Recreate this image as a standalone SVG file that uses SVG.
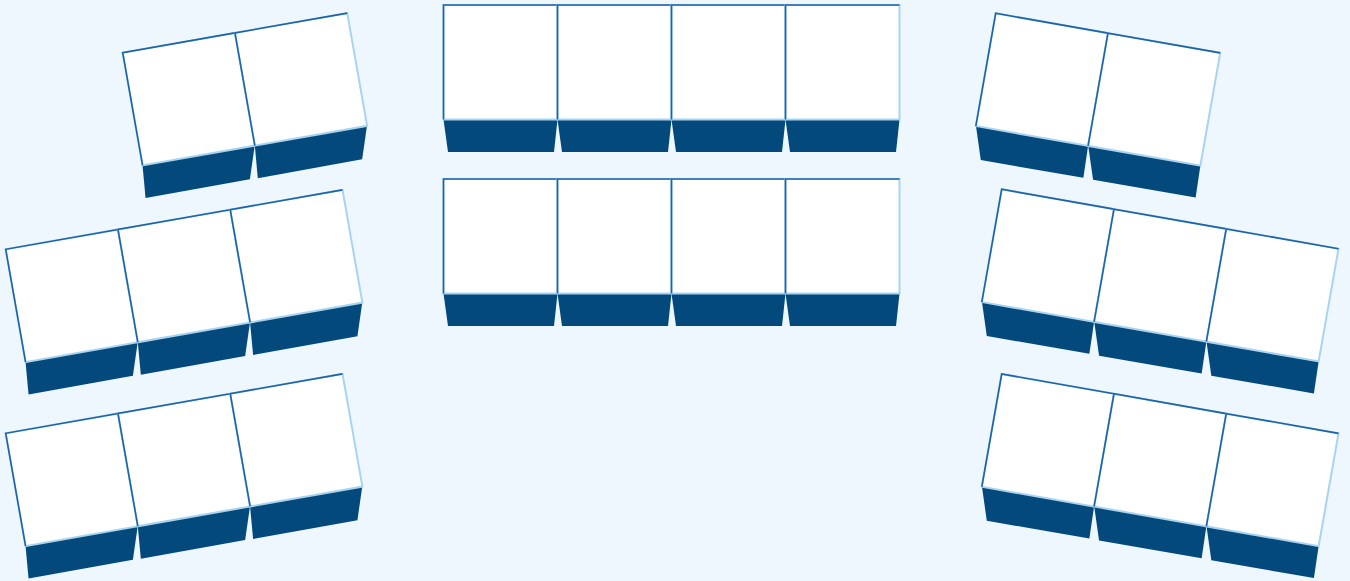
<svg xmlns="http://www.w3.org/2000/svg" xmlns:xlink="http://www.w3.org/1999/xlink" width="1350" height="581" viewBox="0 0 1350 581">
<style>
.bg{fill:#eef6fe}
.top{fill:#ffffff;stroke:#a8d4f2;stroke-width:2}
.edge{fill:none;stroke:#1c64a8;stroke-width:1.6}
.front{fill:#03497b}
</style>
<defs>
<g id="seatC">
<polygon class="front" points="0,114.5 114,114.5 110.5,147 4.5,147"/>
<rect class="top" x="0" y="0" width="114" height="114.5"/>
<polyline class="edge" points="0,114.5 0,0 114,0"/>
</g>
<g id="seatL">
<polygon class="front" points="0,114 114,114 103.3,146.6 -2.7,147"/>
<rect class="top" x="0" y="0" width="114" height="114.5"/>
<polyline class="edge" points="0,114.5 0,0 114,0"/>
</g>
<g id="seatR">
<polygon class="front" points="0,114 114,114 114.9,146.8 10.8,147.1"/>
<rect class="top" x="0" y="0" width="114" height="114.5"/>
<polyline class="edge" points="0,114.5 0,0 114,0"/>
</g>
</defs>
<rect class="bg" x="0" y="0" width="1350" height="581"/>
<g id="table-left-top" transform="translate(122.7,52.7) rotate(-10)">
<use xlink:href="#seatL" x="0"/>
<use xlink:href="#seatL" x="114"/>
</g>
<g id="table-left-middle" transform="translate(5.7,249.3) rotate(-10)">
<use xlink:href="#seatL" x="0"/>
<use xlink:href="#seatL" x="114"/>
<use xlink:href="#seatL" x="228"/>
</g>
<g id="table-left-bottom" transform="translate(5.7,433.3) rotate(-10)">
<use xlink:href="#seatL" x="0"/>
<use xlink:href="#seatL" x="114"/>
<use xlink:href="#seatL" x="228"/>
</g>
<g id="table-center-top" transform="translate(443.5,5)">
<use xlink:href="#seatC" x="0"/>
<use xlink:href="#seatC" x="114"/>
<use xlink:href="#seatC" x="228"/>
<use xlink:href="#seatC" x="342"/>
</g>
<g id="table-center-bottom" transform="translate(443.5,179)">
<use xlink:href="#seatC" x="0"/>
<use xlink:href="#seatC" x="114"/>
<use xlink:href="#seatC" x="228"/>
<use xlink:href="#seatC" x="342"/>
</g>
<g id="table-right-top" transform="translate(995.7,13.3) rotate(10)">
<use xlink:href="#seatR" x="0"/>
<use xlink:href="#seatR" x="114"/>
</g>
<g id="table-right-middle" transform="translate(1001.7,189.3) rotate(10)">
<use xlink:href="#seatR" x="0"/>
<use xlink:href="#seatR" x="114"/>
<use xlink:href="#seatR" x="228"/>
</g>
<g id="table-right-bottom" transform="translate(1001.7,374) rotate(10)">
<use xlink:href="#seatR" x="0"/>
<use xlink:href="#seatR" x="114"/>
<use xlink:href="#seatR" x="228"/>
</g>
<g id="connectors"></g>
</svg>
